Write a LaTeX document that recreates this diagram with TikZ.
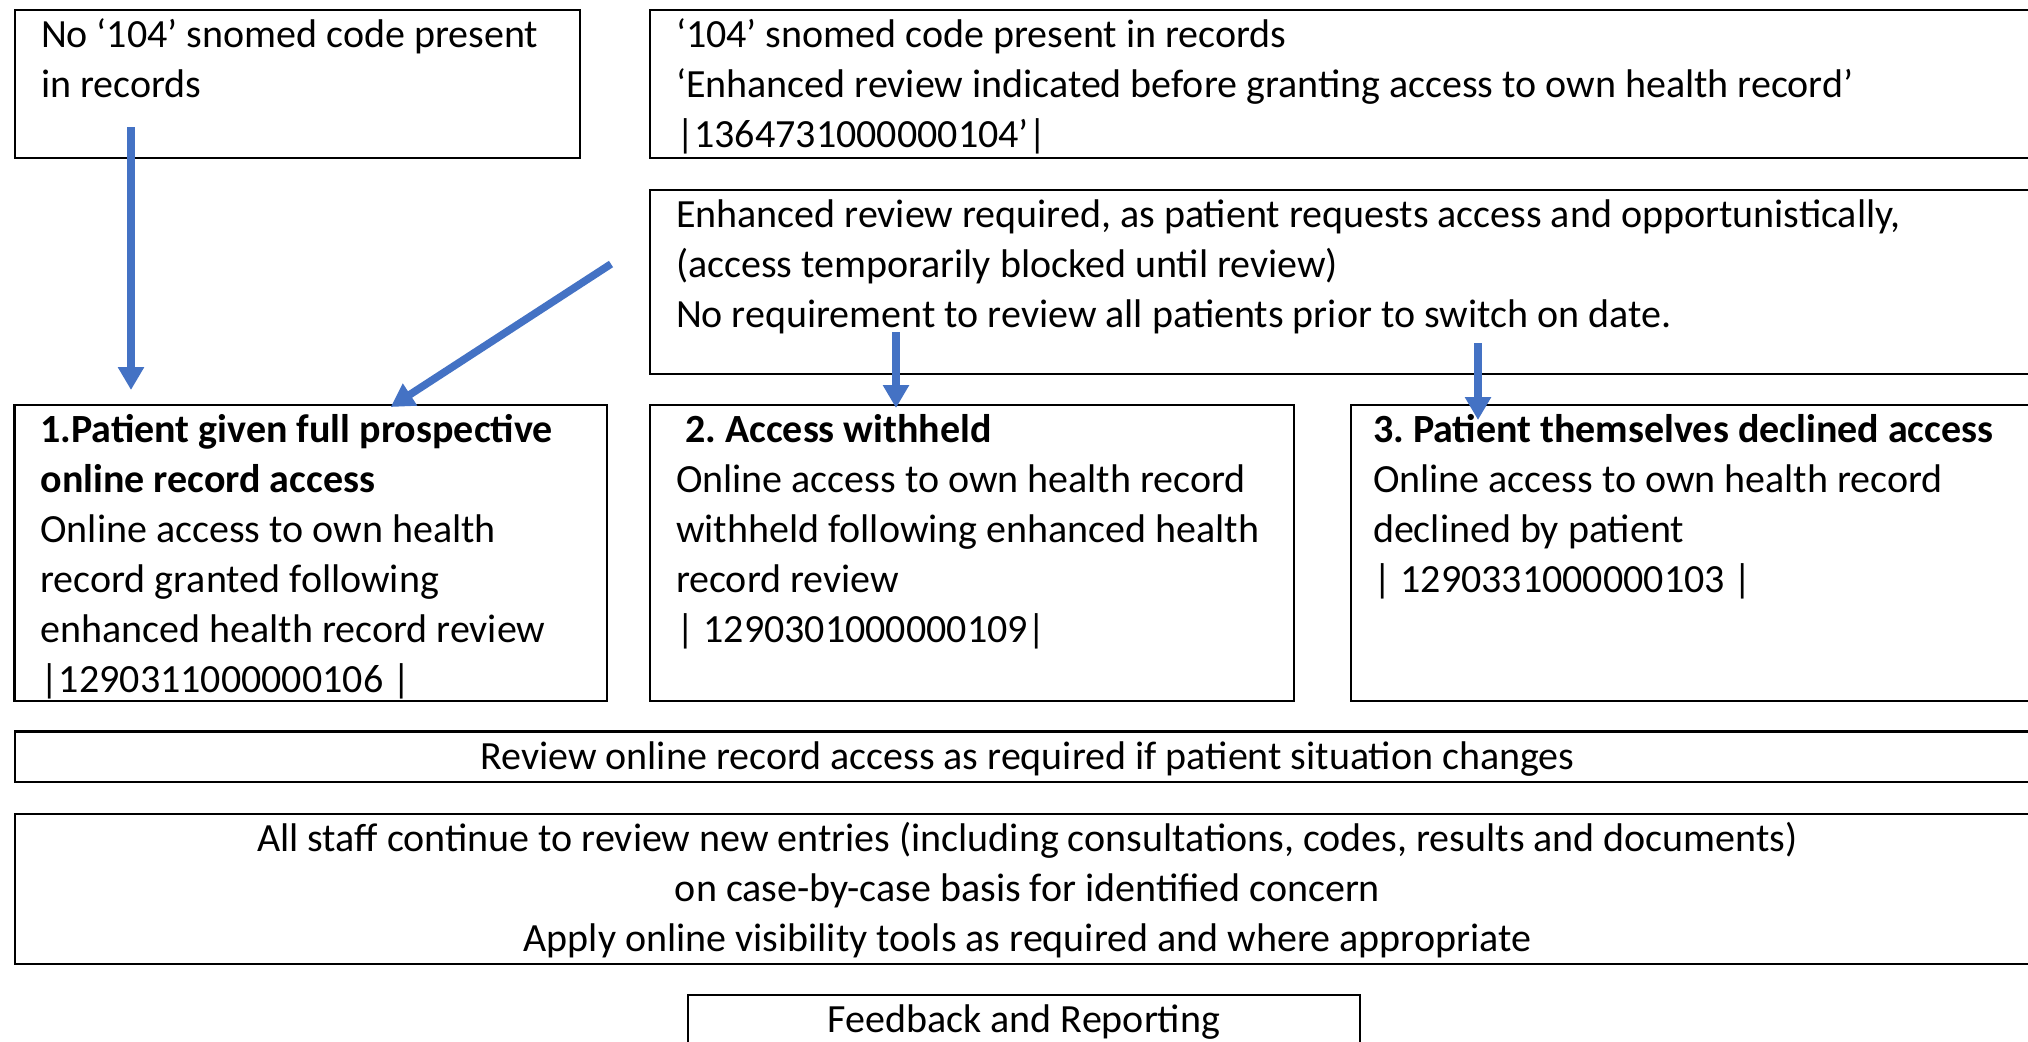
\documentclass[tikz,border=0pt]{standalone}
\usepackage{fontspec}
\setmainfont{Carlito}
\usepackage{tikz}
\usepackage{xcolor}
\usetikzlibrary{arrows.meta}
\definecolor{flowblue}{HTML}{4472C4}
\frenchspacing
\tikzset{
    plain-box/.style = {draw=black, line width=1.25pt, rectangle, anchor=north west, outer sep=0pt, inner xsep=13pt, inner ysep=1.25pt, font=\fontsize{20pt}{25pt}\selectfont},
    flow-arrow/.style = {draw=flowblue, line width=3.8pt, -{Triangle[width=12.5pt,length=11.5pt]}},
}

\begin{document}
\begin{tikzpicture}[x=0.5pt, y=-0.5pt]
\clip (0,0) rectangle (2028,1041);
% top row
\node [plain-box] (noCode) at (15,10) {\begin{minipage}[t][71.5pt][t]{256.5pt}\raggedright\strut
    No ‘104’ snomed code present\\
    in records
\end{minipage}};
\node [plain-box] (hasCode) at (650,10) {\begin{minipage}[t][71.5pt][t]{669pt}\raggedright\strut
    ‘104’ snomed code present in records\\
    ‘Enhanced review indicated before granting access to own health record’\\
    |1364731000000104’|
\end{minipage}};
\node [plain-box] (enhanced) at (650,190) {\begin{minipage}[t][89.5pt][t]{669pt}\raggedright\strut
    Enhanced review required, as patient requests access and opportunistically,\\
    (access temporarily blocked until review)\\
    No requirement to review all patients prior to switch on date.
\end{minipage}};
% outcomes
\node [plain-box] (granted) at (14.5,405) {\begin{minipage}[t][145.5pt][t]{270.25pt}\raggedright\strut
    {\bfseries 1.Patient given full prospective\\
    online record access}\\
    Online access to own health\\
    record granted following\\
    enhanced health record review\\
    |1290311000000106 |
\end{minipage}};
\node [plain-box] (withheld) at (650,405) {\begin{minipage}[t][145.5pt][t]{296pt}\raggedright\strut
    \hspace*{0.23em}{\bfseries 2. Access withheld}\\
    Online access to own health record\\
    withheld following enhanced health\\
    record review\\
    | 1290301000000109|
\end{minipage}};
\node [plain-box, inner xsep=11pt] (declined) at (1351,405) {\begin{minipage}[t][145.5pt][t]{322.5pt}\raggedright\strut
    {\bfseries 3. Patient themselves declined access}\\
    Online access to own health record\\
    declined by patient\\
    | 1290331000000103 |
\end{minipage}};
% bottom boxes
\node [plain-box] (reviewBox) at (15,731.5) {\begin{minipage}[t][22.75pt][t]{986.5pt}\centering\strut
    Review online record access as required if patient situation changes
\end{minipage}};
\node [plain-box] (staffBox) at (15,814) {\begin{minipage}[t][72.5pt][t]{986.5pt}\centering\strut
    All staff continue to review new entries (including consultations, codes, results and documents)\\
    on case-by-case basis for identified concern\\
    Apply online visibility tools as required and where appropriate
\end{minipage}};
\node [plain-box] (feedback) at (688,995) {\begin{minipage}[t][35pt][t]{310pt}\centering\strut
    Feedback and Reporting
\end{minipage}};
% arrows
\coordinate (noStart) at (131,127);
\coordinate (diagStart) at (611,264);
\coordinate (midStart) at (896,332);
\coordinate (rightStart) at (1478,343);
\draw [flow-arrow, shorten >=7.5pt] (noStart) -- (noStart |- granted.north);
\draw [flow-arrow] (diagStart) -- ([xshift=40pt, yshift=-1pt]granted.north);
\draw [flow-arrow, shorten >=-1.5pt] (midStart) -- (midStart |- withheld.north);
\draw [flow-arrow, shorten >=-7.5pt] (rightStart) -- (rightStart |- declined.north);
\end{tikzpicture}
\end{document}
